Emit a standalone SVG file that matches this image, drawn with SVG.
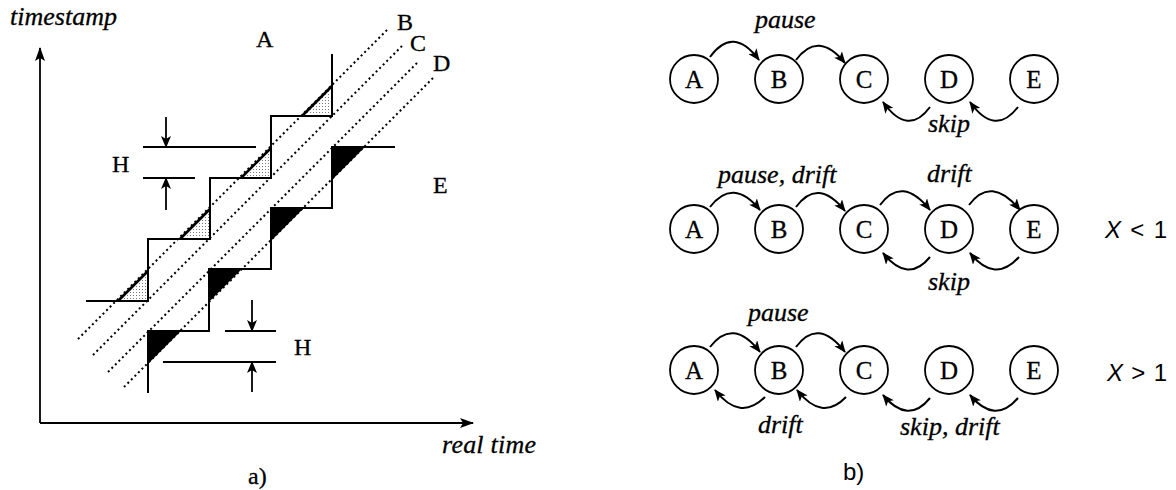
<svg xmlns="http://www.w3.org/2000/svg" width="1176" height="490" viewBox="0 0 1176 490">
<style>
.ln{stroke:#000;stroke-width:1.8;fill:none}
.st{stroke:#000;stroke-width:2;fill:none}
.dot{stroke:#000;stroke-width:2;stroke-dasharray:2 3;fill:none}
.lt{fill:url(#stip);stroke:#000;stroke-width:1.2}
.dk{fill:#000;stroke:#000;stroke-width:1.2}
.hyp{stroke:#000;stroke-width:2.6;fill:none}
.arc{stroke:#000;stroke-width:2;fill:none;marker-end:url(#ah)}
.nd{fill:#fff;stroke:#000;stroke-width:1.8}
.nl{font-family:"Liberation Serif",serif;font-size:25px;text-anchor:middle;stroke:#000;stroke-width:0.3}
.it{font-family:"Liberation Serif",serif;font-style:italic;font-size:26px;stroke:#000;stroke-width:0.3}
.rm{font-family:"Liberation Serif",serif;font-size:24px;stroke:#000;stroke-width:0.3}
.sn{font-family:"Liberation Sans",sans-serif;font-size:24px}
</style>
<defs>
<pattern id="stip" width="3" height="3" patternUnits="userSpaceOnUse">
<rect width="3" height="3" fill="#fff"/>
<rect x="1" y="1" width="1" height="1" fill="#777"/>
</pattern>
<marker id="ah" viewBox="0 0 12 10" refX="11" refY="5" markerWidth="12" markerHeight="10" markerUnits="userSpaceOnUse" orient="auto">
<path d="M0,0 L12,5 L0,10 L3,5 Z" fill="#000"/>
</marker>
<marker id="ax" viewBox="0 0 14 10" refX="13" refY="5" markerWidth="14" markerHeight="10" markerUnits="userSpaceOnUse" orient="auto">
<path d="M0,0 L14,5 L0,10 L3,5 Z" fill="#000"/>
</marker>
<marker id="hm" viewBox="0 0 12 10" refX="11" refY="5" markerWidth="12" markerHeight="10" markerUnits="userSpaceOnUse" orient="auto">
<path d="M0,0 L12,5 L0,10 L3,5 Z" fill="#000"/>
</marker>
</defs>
<rect width="1176" height="490" fill="#fff"/>

<g id="plot-a">
<g id="axes">
<line class="ln" x1="40" y1="423" x2="40" y2="48" marker-end="url(#ax)"/>
<line class="ln" x1="40" y1="423" x2="473" y2="423" marker-end="url(#ax)"/>
</g>
<g id="dotted-lines">
<line class="dot" x1="78" y1="339" x2="387" y2="30"/>
<line class="dot" x1="93" y1="355" x2="402" y2="46"/>
<line class="dot" x1="108" y1="372" x2="418" y2="62"/>
<line class="dot" x1="124" y1="387" x2="435" y2="76"/>
</g>
<g id="upper-stair">
<polygon class="lt" points="332,116 302,116 332,86"/>
<polygon class="lt" points="271,178 241,178 271,148"/>
<polygon class="lt" points="210,239 180,239 210,209"/>
<polygon class="lt" points="148,301 118,301 148,271"/>
<line class="hyp" x1="302" y1="116" x2="332" y2="86"/>
<line class="hyp" x1="241" y1="178" x2="271" y2="148"/>
<line class="hyp" x1="180" y1="239" x2="210" y2="209"/>
<line class="hyp" x1="118" y1="301" x2="148" y2="271"/>
<path class="st" d="M332,54 V116 H271 V178 H210 V239 H148 V301 H86"/>
</g>
<g id="lower-stair">
<polygon class="dk" points="332,147 364,147 332,179"/>
<polygon class="dk" points="271,208 303,208 271,240"/>
<polygon class="dk" points="209,269 241,269 209,301"/>
<polygon class="dk" points="148,331 180,331 148,363"/>
<path class="st" d="M395,147 H332 V208 H271 V269 H209 V331 H148 V393"/>
</g>
<g id="h-upper">
<line class="ln" x1="143" y1="147" x2="256" y2="147"/>
<line class="ln" x1="143" y1="178" x2="195" y2="178"/>
<line class="ln" x1="166" y1="117" x2="166" y2="147" marker-end="url(#hm)"/>
<line class="ln" x1="166" y1="210" x2="166" y2="178" marker-end="url(#hm)"/>
<text class="rm" x="112" y="172">H</text>
</g>
<g id="h-lower">
<line class="ln" x1="225" y1="331" x2="276" y2="331"/>
<line class="ln" x1="163" y1="362" x2="276" y2="362"/>
<line class="ln" x1="252" y1="300" x2="252" y2="331" marker-end="url(#hm)"/>
<line class="ln" x1="252" y1="392" x2="252" y2="362" marker-end="url(#hm)"/>
<text class="rm" x="294" y="355">H</text>
</g>
<g id="plot-labels">
<text class="it" x="10" y="25" textLength="107">timestamp</text>
<text class="it" x="442" y="453" textLength="94">real time</text>
<text class="rm" x="256" y="47">A</text>
<text class="rm" x="397" y="30">B</text>
<text class="rm" x="410" y="51">C</text>
<text class="rm" x="433" y="71">D</text>
<text class="rm" x="433" y="193">E</text>
<text class="rm" x="248" y="484">a)</text>
</g>
</g>

<g id="connectors">
<path class="arc" d="M710,57 Q733,25 759,60"/>
<path class="arc" d="M796,60 Q818,30 845,63"/>
<path class="arc" d="M930,107 Q908,137 883,102"/>
<path class="arc" d="M1018,107 Q995,137 970,102"/>

<path class="arc" d="M710,207 Q733,177 760,210"/>
<path class="arc" d="M796,207 Q818,177 845,211"/>
<path class="arc" d="M880,205 Q902,175 930,210"/>
<path class="arc" d="M969,205 Q991,175 1020,210"/>
<path class="arc" d="M930,257 Q908,284 883,253"/>
<path class="arc" d="M1019,257 Q995,284 970,253"/>

<path class="arc" d="M710,347 Q733,317 760,352"/>
<path class="arc" d="M796,347 Q818,317 845,352"/>
<path class="arc" d="M765,397 Q740,422 715,390"/>
<path class="arc" d="M846,397 Q822,422 797,390"/>
<path class="arc" d="M930,398 Q908,425 883,395"/>
<path class="arc" d="M1018,398 Q995,425 970,395"/>
</g>

<g id="row1">
<g id="r1-A"><circle class="nd" cx="694" cy="79" r="24"/><text class="nl" x="694" y="88">A</text></g>
<g id="r1-B"><circle class="nd" cx="779" cy="79" r="24"/><text class="nl" x="779" y="88">B</text></g>
<g id="r1-C"><circle class="nd" cx="864" cy="79" r="24"/><text class="nl" x="864" y="88">C</text></g>
<g id="r1-D"><circle class="nd" cx="949" cy="79" r="24"/><text class="nl" x="949" y="88">D</text></g>
<g id="r1-E"><circle class="nd" cx="1034" cy="79" r="24"/><text class="nl" x="1034" y="88">E</text></g>
<text class="it" x="755" y="28">pause</text>
<text class="it" x="928" y="132">skip</text>
</g>

<g id="row2">
<g id="r2-A"><circle class="nd" cx="694" cy="229" r="24"/><text class="nl" x="694" y="238">A</text></g>
<g id="r2-B"><circle class="nd" cx="779" cy="229" r="24"/><text class="nl" x="779" y="238">B</text></g>
<g id="r2-C"><circle class="nd" cx="864" cy="229" r="24"/><text class="nl" x="864" y="238">C</text></g>
<g id="r2-D"><circle class="nd" cx="949" cy="229" r="24"/><text class="nl" x="949" y="238">D</text></g>
<g id="r2-E"><circle class="nd" cx="1034" cy="229" r="24"/><text class="nl" x="1034" y="238">E</text></g>
<text class="it" x="718" y="183">pause, drift</text>
<text class="it" x="927" y="182">drift</text>
<text class="it" x="928" y="290">skip</text>
<text class="sn" x="1105" y="238" textLength="62"><tspan font-style="italic">X</tspan> &lt; 1</text>
</g>

<g id="row3">
<g id="r3-A"><circle class="nd" cx="694" cy="370" r="24"/><text class="nl" x="694" y="379">A</text></g>
<g id="r3-B"><circle class="nd" cx="779" cy="370" r="24"/><text class="nl" x="779" y="379">B</text></g>
<g id="r3-C"><circle class="nd" cx="864" cy="370" r="24"/><text class="nl" x="864" y="379">C</text></g>
<g id="r3-D"><circle class="nd" cx="949" cy="370" r="24"/><text class="nl" x="949" y="379">D</text></g>
<g id="r3-E"><circle class="nd" cx="1034" cy="370" r="24"/><text class="nl" x="1034" y="379">E</text></g>
<text class="it" x="748" y="321">pause</text>
<text class="it" x="758" y="433">drift</text>
<text class="it" x="900" y="435">skip, drift</text>
<text class="sn" x="1107" y="381" textLength="60"><tspan font-style="italic">X</tspan> &gt; 1</text>
</g>
<text class="sn" x="843" y="480">b)</text>
</svg>
